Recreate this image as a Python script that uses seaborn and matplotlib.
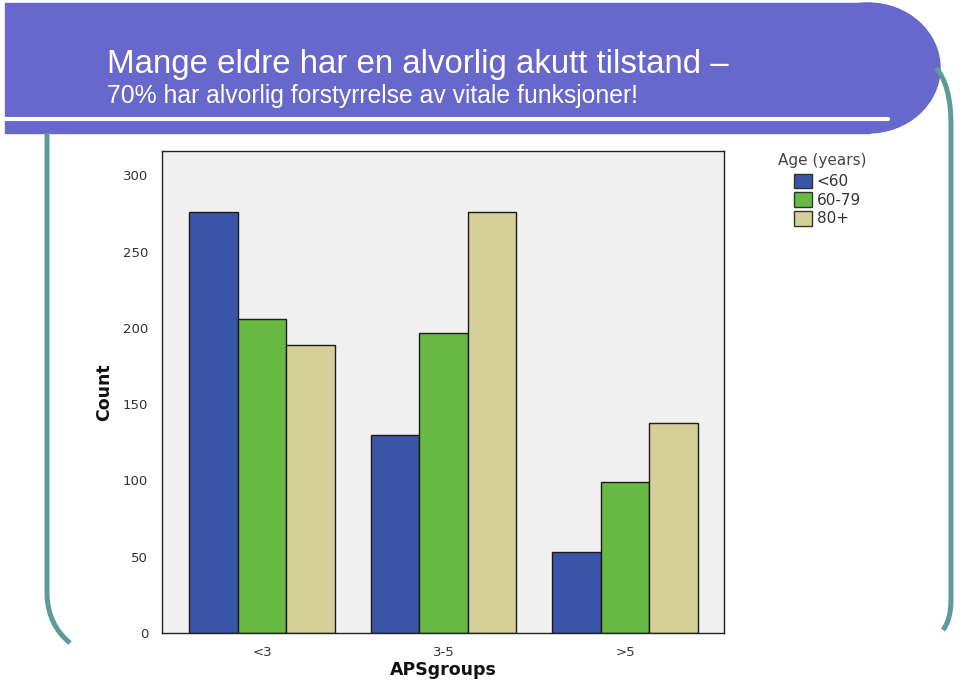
import matplotlib
matplotlib.use("Agg")
import matplotlib.pyplot as plt
import matplotlib.patches as mpatches
from matplotlib.path import Path
import seaborn as sns
import pandas as pd
from matplotlib import font_manager

# ---- data ----
aps_groups = ["<3", "3-5", ">5"]
age_groups = ["<60", "60-79", "80+"]
count_lt60 = [276, 130, 53]
count_60_79 = [206, 197, 99]
count_80p = [189, 276, 138]

colors = ["#3A55A8", "#68B944", "#D5D098"]

rows = []
for g, vals in zip(age_groups, [count_lt60, count_60_79, count_80p]):
    for a, v in zip(aps_groups, vals):
        rows.append({"APSgroups": a, "Age": g, "Count": v})
df = pd.DataFrame(rows)

sns.set_style("white")
names = {f.name for f in font_manager.fontManager.ttflist}
narrow = "Liberation Sans Narrow" if "Liberation Sans Narrow" in names else "Liberation Sans"
plt.rcParams["font.family"] = ["DejaVu Sans"]

W, H = 960, 685
fig = plt.figure(figsize=(9.6, 6.85), dpi=100)

def fx(x):
    return x / W

def fy(y):
    return 1 - y / H

# ---- banner ----
banner_col = "#6767CC"
fig.patches.append(mpatches.Rectangle((fx(5), fy(133)), fx(865), (130) / H,
                                      transform=fig.transFigure, color=banner_col, zorder=0))
fig.patches.append(mpatches.Ellipse((fx(868), fy(68)), 144 / W, 130 / H,
                                    transform=fig.transFigure, color=banner_col, zorder=0))
fig.lines.append(plt.Line2D([fx(5), fx(888)], [fy(119), fy(119)], transform=fig.transFigure,
                            color="white", lw=3, zorder=1))
fig.text(fx(107), fy(73), "Mange eldre har en alvorlig akutt tilstand –", color="white",
         fontsize=23.8, family=[narrow, "DejaVu Sans"], va="baseline", ha="left")
fig.text(fx(107), fy(103), "70% har alvorlig forstyrrelse av vitale funksjoner!", color="white",
         fontsize=17.8, family=[narrow, "DejaVu Sans"], va="baseline", ha="left")

# ---- teal borders ----
teal = "#5E9B98"
left_path = Path([(fx(47), fy(133)), (fx(47), fy(595)), (fx(48), fy(625)), (fx(70), fy(643))],
                 [Path.MOVETO, Path.LINETO, Path.CURVE3, Path.CURVE3])
fig.patches.append(mpatches.PathPatch(left_path, transform=fig.transFigure, fill=False,
                                      edgecolor=teal, lw=3.6, zorder=0))
right_path = Path([(fx(936), fy(68)), (fx(951), fy(85)), (fx(951), fy(125)),
                   (fx(951), fy(600)), (fx(951), fy(620)), (fx(943), fy(630))],
                  [Path.MOVETO, Path.CURVE3, Path.CURVE3, Path.LINETO, Path.CURVE3, Path.CURVE3])
fig.patches.append(mpatches.PathPatch(right_path, transform=fig.transFigure, fill=False,
                                      edgecolor=teal, lw=3.6, zorder=0))

# ---- chart ----
ax = fig.add_axes([fx(162), fy(633), 562 / W, 482 / H])
ax.set_facecolor("#F0F0F0")
sns.barplot(data=df, x="APSgroups", y="Count", hue="Age", order=aps_groups,
            hue_order=age_groups, palette=colors, width=0.8, edgecolor="#1A1A1A",
            linewidth=1.0, saturation=1, ax=ax, legend=False, errorbar=None)
ax.set_xlim(-0.551, 2.545)
ax.set_ylim(0, 316)
ax.set_yticks([0, 50, 100, 150, 200, 250, 300])
for s in ax.spines.values():
    s.set_color("#222222")
    s.set_linewidth(1.0)
ax.tick_params(axis="both", direction="out", length=6, width=1, colors="#222222",
               labelsize=9.5, labelcolor="#333333")
ax.tick_params(axis="y", pad=4)
ax.set_ylabel("Count", fontsize=12.5, fontweight="bold", color="#111111")
ax.set_xlabel("APSgroups", fontsize=12.5, fontweight="bold", color="#111111")
ax.yaxis.set_label_coords(-0.087, 0.5)
ax.xaxis.set_label_coords(0.5, -0.058)

# ---- legend ----
fig.text(fx(778), fy(161), "Age (years)", color="#444444", fontsize=11,
         va="center", ha="left")
handles = [mpatches.Patch(facecolor=c, edgecolor="#333333", lw=1) for c in colors]
leg = fig.legend(handles, age_groups, loc="upper left",
                 bbox_to_anchor=(fx(783), fy(163)), frameon=False, fontsize=11,
                 handlelength=1.2, handleheight=1.1,
                 handletextpad=0.3, labelspacing=0.2, borderpad=0.2)
for t in leg.get_texts():
    t.set_color("#333333")

fig.savefig("out.png", dpi=100)
